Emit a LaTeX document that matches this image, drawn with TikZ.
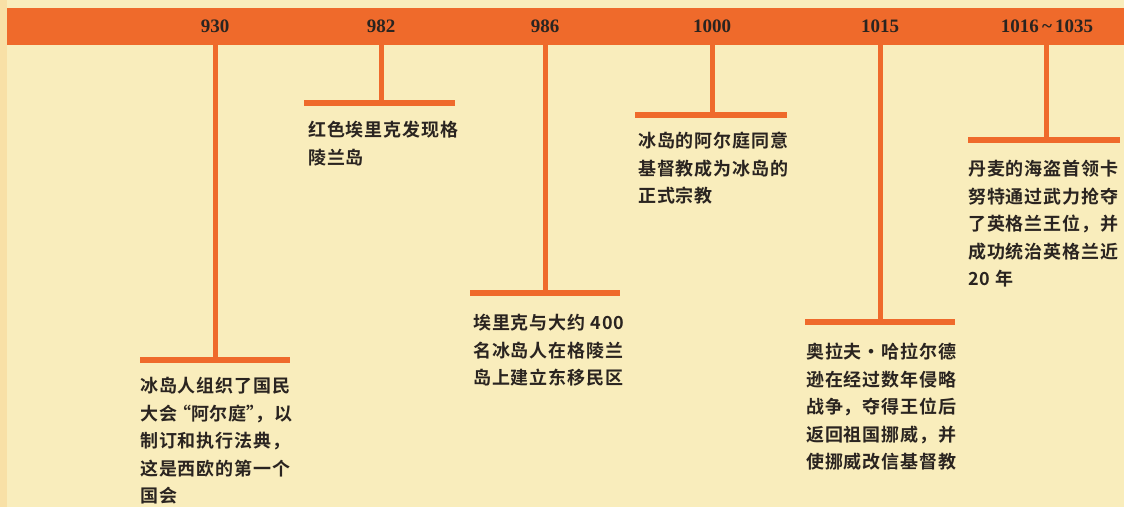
\documentclass[tikz,border=0pt]{standalone}
\usepackage{fontspec}
\setmainfont{Liberation Serif}
\newfontfamily\cjk{Noto Sans CJK SC}[BoldFont={Noto Sans CJK SC Bold},LetterSpace=5]
\newcommand\hp[1]{{\addfontfeature{RawFeature=+halt}#1}}
\definecolor{bg}{HTML}{F9EDBC}
\definecolor{edge}{HTML}{F8E0A6}
\definecolor{bar}{HTML}{EF6A2B}
\definecolor{ink}{HTML}{2A2420}
\tikzset{
  year/.style={font=\bfseries\fontsize{19}{19}\selectfont, text=ink, inner sep=0pt},
  stem/.style={draw=bar, line width=5pt},
  shelf/.style={draw=bar, line width=6pt},
  note/.style={anchor=north west, inner sep=0pt, align=left, text=ink,
    font=\cjk\bfseries\fontsize{18}{27.5}\selectfont},
}
\begin{document}
\begin{tikzpicture}[x=1pt,y=-1pt]
\useasboundingbox (0,0) rectangle (1124,507);
\fill[bg] (0,0) rectangle (1124,507);
\fill[edge] (0,0) rectangle (7,507);
% bar
\node[fill=bar, inner sep=0pt, minimum width=1117pt, minimum height=37pt, anchor=north west] (bar) at (7,8) {};
% years
\node[year] (y930)  at (215,26) {930};
\node[year] (y982)  at (381,26) {982};
\node[year] (y986)  at (545,26) {986};
\node[year] (y1000) at (712,26) {1000};
\node[year] (y1015) at (880,26) {1015};
\node[year] (y1016) at (1047,26) {1016\,\textasciitilde\,1035};
% attach points on bar bottom
\coordinate (a930)  at (215,44);
\coordinate (a982)  at (381,44);
\coordinate (a986)  at (545,44);
\coordinate (a1000) at (712,44);
\coordinate (a1015) at (880,44);
\coordinate (a1016) at (1046,44);
% shelves
\coordinate (s930l) at (140,360);  \coordinate (s930r) at (290,360);
\coordinate (s982l) at (304,103);  \coordinate (s982r) at (455,103);
\coordinate (s986l) at (470,293);  \coordinate (s986r) at (620,293);
\coordinate (s1000l) at (635,115); \coordinate (s1000r) at (787,115);
\coordinate (s1015l) at (805,322); \coordinate (s1015r) at (955,322);
\coordinate (s1016l) at (968,140); \coordinate (s1016r) at (1120,140);
\foreach \k in {930,982,986,1000,1015,1016}{
  \draw[shelf] (s\k l) -- (s\k r);
  \draw[stem] (a\k) -- (a\k |- s\k l);
}
% notes
\node[note] (n930) at (140,377) {冰岛人组织了国民\\大会 \hp{“}阿尔庭\hp{”}，以\\制订和执行法典，\\这是西欧的第一个\\国会};
\node[note] (n982) at (308,121) {红色埃里克发现格\\陵兰岛};
\node[note] (n986) at (473,314) {埃里克与大约 400\\名冰岛人在格陵兰\\岛上建立东移民区};
\node[note] (n1000) at (638,132) {冰岛的阿尔庭同意\\基督教成为冰岛的\\正式宗教};
\node[note] (n1015) at (806,343) {奥拉夫·哈拉尔德\\逊在经过数年侵略\\战争，夺得王位后\\返回祖国挪威，并\\使挪威改信基督教};
\node[note] (n1016) at (968,160) {丹麦的海盗首领卡\\努特通过武力抢夺\\了英格兰王位，并\\成功统治英格兰近\\20 年};
\end{tikzpicture}
\end{document}
